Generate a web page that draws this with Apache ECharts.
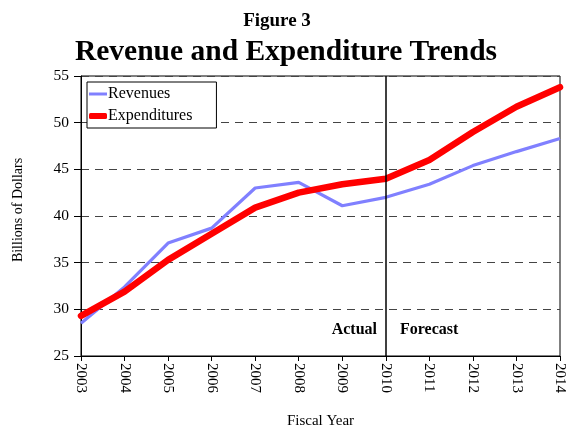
<!DOCTYPE html>
<html>
<head>
<meta charset="utf-8">
<script src="https://cdn.jsdelivr.net/npm/echarts@6/dist/echarts.min.js"></script>
<style>
html, body { margin: 0; padding: 0; background: #ffffff; }
#chart { width: 566px; height: 428px; }
</style>
</head>
<body>
<div id="chart"></div>
<script>
var years = ['2003', '2004', '2005', '2006', '2007', '2008', '2009', '2010', '2011', '2012', '2013', '2014']
var revenues = [28.5, 32.4, 37.1, 38.7, 43.0, 43.6, 41.1, 42.0, 43.4, 45.4, 46.9, 48.3]
var expenditures = [29.3, 31.9, 35.3, 38.1, 40.9, 42.5, 43.4, 44.0, 46.0, 49.0, 51.7, 53.8]
var splitYear = '2010'

var serif = '"Liberation Serif", "Times New Roman", serif'
var chart = echarts.init(document.getElementById('chart'))
chart.setOption({
  animation: false,
  title: [
    {
      text: 'Figure 3',
      left: 272,
      top: 7,
      textAlign: 'center',
      textStyle: { fontFamily: serif, fontSize: 19, fontWeight: 'bold', color: '#000' }
    },
    {
      text: 'Revenue and Expenditure Trends',
      left: 281,
      top: 32,
      textAlign: 'center',
      textStyle: { fontFamily: serif, fontSize: 29.5, fontWeight: 'bold', color: '#000' }
    }
  ],
  legend: {
    left: 87,
    top: 82,
    orient: 'vertical',
    itemGap: 6,
    itemWidth: 18,
    itemHeight: 6,
    padding: [4, 24, 4, 2],
    borderColor: '#000',
    borderWidth: 1,
    backgroundColor: '#fff',
    textStyle: { fontFamily: serif, fontSize: 16, color: '#000', padding: [0, 0, 0, -4] },
    data: [
      { name: 'Revenues', icon: 'path://M0,0 L18,0 L18,3 L0,3 Z' },
      { name: 'Expenditures', icon: 'roundRect' }
    ]
  },
  grid: {
    left: 81,
    right: 6,
    top: 76,
    bottom: 72,
    outerBoundsMode: 'none',
    containLabel: false,
    show: true,
    borderColor: '#000',
    borderWidth: 1
  },
  xAxis: {
    type: 'category',
    boundaryGap: false,
    data: years,
    name: 'Fiscal Year',
    nameLocation: 'middle',
    nameGap: 58,
    nameTextStyle: { fontFamily: serif, fontSize: 15, color: '#000' },
    axisLine: { lineStyle: { color: '#000', width: 1 } },
    axisTick: { show: true, length: 5, inside: false, lineStyle: { color: '#000' } },
    axisLabel: { rotate: -90, fontFamily: serif, fontSize: 15, color: '#000', margin: 7 },
    splitLine: { show: false }
  },
  yAxis: {
    type: 'value',
    min: 25,
    max: 55,
    interval: 5,
    name: 'Billions of Dollars',
    nameLocation: 'middle',
    nameGap: 56,
    nameTextStyle: { fontFamily: serif, fontSize: 14, color: '#000', padding: [0, 0, 0, 12] },
    axisLine: { show: true, lineStyle: { color: '#000', width: 1 } },
    axisTick: { show: true, length: 7, lineStyle: { color: '#000' } },
    axisLabel: { fontFamily: serif, fontSize: 15.5, color: '#000', margin: 12 },
    splitLine: { show: true, lineStyle: { color: '#444', type: [8, 6], width: 1.2 } }
  },
  series: [
    {
      name: 'Revenues',
      type: 'line',
      data: revenues,
      symbol: 'none',
      color: '#8080ff',
      lineStyle: { width: 3.2, color: '#8080ff' },
      z: 3,
      markLine: {
        silent: true,
        symbol: 'none',
        label: { show: false },
        lineStyle: { color: '#000', type: 'solid', width: 1.5 },
        data: [{ xAxis: splitYear }]
      }
    },
    {
      name: 'Expenditures',
      type: 'line',
      data: expenditures,
      symbol: 'none',
      color: '#ff0000',
      lineStyle: { width: 6.5, color: '#ff0000', cap: 'round', join: 'round' },
      z: 4
    }
  ],
  graphic: [
    {
      type: 'text',
      right: 566 - 377,
      top: 322,
      style: { text: 'Actual', font: 'bold 16px ' + serif, fill: '#000' }
    },
    {
      type: 'text',
      left: 400,
      top: 322,
      style: { text: 'Forecast', font: 'bold 16px ' + serif, fill: '#000' }
    }
  ]
})
</script>
</body>
</html>
